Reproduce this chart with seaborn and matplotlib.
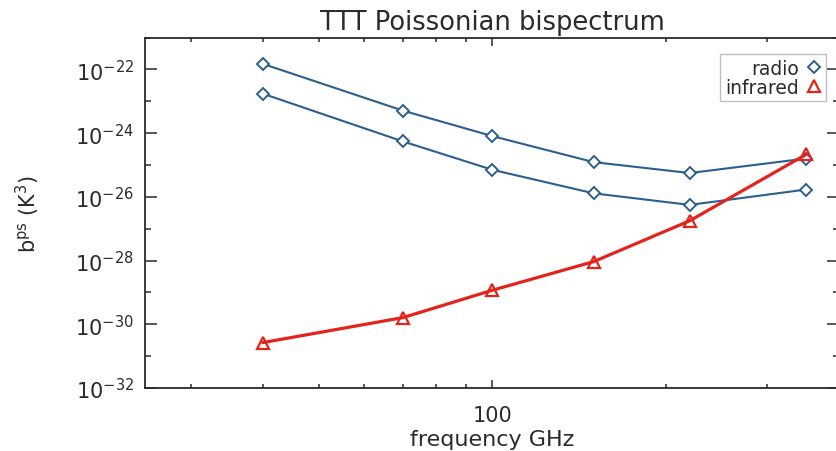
import numpy as np
import pandas as pd
import matplotlib
matplotlib.use("Agg")
import matplotlib.pyplot as plt
from matplotlib.lines import Line2D
from matplotlib.ticker import FixedLocator, FuncFormatter, NullFormatter
import seaborn as sns

# Observing channels (GHz)
freq = [40, 70, 100, 150, 220, 350]

# Poissonian TTT bispectrum amplitudes (K^3)
radio_upper = [1.5e-22, 5.1e-24, 8.1e-25, 1.23e-25, 5.6e-26, 1.6e-25]
radio_lower = [1.74e-23, 5.5e-25, 7.1e-26, 1.29e-26, 5.6e-27, 1.7e-26]
infrared = [2.66e-31, 1.62e-30, 1.17e-29, 9.3e-29, 1.78e-27, 2.14e-25]

blue = "#2c5f8e"
red = "#e3231c"
ink = "#2b2b2b"

sns.set_style("ticks")
plt.rcParams["font.family"] = ["DejaVu Sans"]
plt.rcParams["text.color"] = ink
plt.rcParams["axes.labelcolor"] = ink

fig = plt.figure(figsize=(8.36, 4.52), dpi=100)
W, H = 836, 452
left, right, top, bottom = 145, 839.5, 38.6, 389.0
ax = fig.add_axes([left / W, (H - bottom) / H, (right - left) / W, (bottom - top) / H])

for series in (radio_upper, radio_lower):
    df = pd.DataFrame({"freq": freq, "b": series})
    sns.lineplot(data=df, x="freq", y="b", ax=ax, color=blue, linewidth=1.5,
                 marker="D", markersize=6, markerfacecolor="white",
                 markeredgecolor=blue, markeredgewidth=1.4)

df_ir = pd.DataFrame({"freq": freq, "b": infrared})
sns.lineplot(data=df_ir, x="freq", y="b", ax=ax, color=red, linewidth=2.3,
             marker="^", markersize=8, markerfacecolor="none",
             markeredgecolor=red, markeredgewidth=1.6)

ax.set_xscale("log")
ax.set_yscale("log")
ax.set_xlim(25, 400)
ax.set_ylim(1e-32, 1e-21)

# x ticks: labelled 100, unlabelled intermediate channels
ax.xaxis.set_major_locator(FixedLocator([100]))
ax.xaxis.set_major_formatter(FuncFormatter(lambda v, p: f"{v:.0f}"))
ax.xaxis.set_minor_locator(FixedLocator([30, 40, 50, 60, 70, 80, 90, 200, 300]))
ax.xaxis.set_minor_formatter(NullFormatter())

# y ticks: labels every second decade
ax.yaxis.set_major_locator(FixedLocator(10.0 ** np.arange(-32, -21, 2)))
ax.yaxis.set_major_formatter(FuncFormatter(lambda v, p: r"$10^{%d}$" % round(np.log10(v))))
ax.yaxis.set_minor_locator(FixedLocator(10.0 ** np.arange(-31, -20, 2)))
ax.yaxis.set_minor_formatter(NullFormatter())

ax.tick_params(axis="both", which="both", direction="in", top=True, right=True,
               colors=ink, width=1.1)
ax.tick_params(axis="x", which="major", length=6, labelsize=15, pad=12)
ax.tick_params(axis="x", which="minor", length=3)
ax.tick_params(axis="y", which="major", length=8.5, labelsize=15, pad=8)
ax.tick_params(axis="y", which="minor", length=4.5)

for s in ax.spines.values():
    s.set_color(ink)
    s.set_linewidth(1.3)

ax.set_xlabel("frequency GHz", fontsize=16, labelpad=3)
ax.set_ylabel(r"b$^{\rm ps}$ (K$^3$)", fontsize=15, labelpad=24)
ax.set_title("TTT Poissonian bispectrum", fontsize=18.5, pad=6, color=ink)

handles = [
    Line2D([], [], linestyle="none", marker="D", markersize=6, markerfacecolor="none",
           markeredgecolor=blue, markeredgewidth=1.4, label="radio"),
    Line2D([], [], linestyle="none", marker="^", markersize=8, markerfacecolor="none",
           markeredgecolor=red, markeredgewidth=1.6, label="infrared"),
]
leg = ax.legend(handles=handles, loc="upper right", bbox_to_anchor=(0.9805, 0.953),
                markerfirst=False, fontsize=13.5, frameon=True, fancybox=False,
                handlelength=0.8, handletextpad=0.4, borderpad=0.25, labelspacing=0.0,
                borderaxespad=0)
leg.get_frame().set_edgecolor("#b0b0b0")
leg.get_frame().set_linewidth(1.0)

fig.savefig("out.png", dpi=100)
